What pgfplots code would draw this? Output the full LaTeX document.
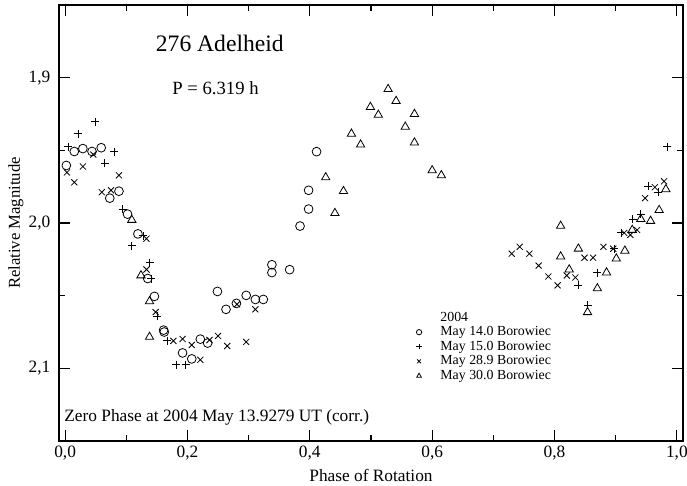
\documentclass[border=0pt]{standalone}
\usepackage{fontspec}
\setmainfont{Liberation Serif}
\usepackage{pgfplots}
\pgfplotsset{compat=1.18}

\begin{document}
\begin{tikzpicture}
\path[use as bounding box] (-44.25pt,-33.75pt) rectangle (471pt,330.75pt);
\begin{axis}[
    scale only axis,
    width=468pt, height=327pt,
    xmin=-0.01, xmax=1.01,
    ymin=1.85, ymax=2.15,
    y dir=reverse,
    xtick={0,0.2,0.4,0.6,0.8,1},
    ytick={1.9,2.0,2.1},
    minor x tick num=1,
    minor y tick num=1,
    tick align=inside,
    major tick length=8.5pt,
    minor tick length=4.5pt,
    axis line style={line width=1.2pt},
    every tick/.style={black, line width=0.8pt},
    /pgf/number format/fixed,
    /pgf/number format/fixed zerofill,
    /pgf/number format/precision=1,
    /pgf/number format/use comma,
    /pgf/number format/assume math mode=true,
    tick label style={font=\fontsize{13}{15}\selectfont},
    yticklabel style={xshift=-3pt},
    xlabel={Phase of Rotation},
    ylabel={Relative Magnitude},
    every axis x label/.style={at={(axis description cs:0.5,-0.080)}, anchor=center, font=\fontsize{13}{15}\selectfont},
    every axis y label/.style={at={(axis description cs:-0.069,0.5)}, rotate=90, anchor=center, font=\fontsize{12.5}{15}\selectfont},
    legend cell align=left,
    legend style={at={(axis cs:0.553,2.0574)}, anchor=north west, draw=none, fill=none,
        font=\fontsize{10.4}{12}\selectfont, row sep=-1.5pt, column sep=12pt},
    legend image post style={mark size=2pt},
]
\addlegendimage{empty legend}
\addlegendentry{2004}

% May 14.0
\addplot[only marks, mark=o, mark size=3.3pt, line width=0.6pt] coordinates {
 (0.002,1.9604) (0.015,1.9508) (0.029,1.9488) (0.044,1.9508) (0.059,1.9482)
 (0.073,1.9829) (0.088,1.9781) (0.102,1.9939) (0.119,2.0075) (0.135,2.0382)
 (0.146,2.0505) (0.161,2.0737) (0.162,2.0750) (0.192,2.0894) (0.207,2.0935)
 (0.221,2.0799) (0.233,2.0826) (0.249,2.0471) (0.263,2.0594) (0.280,2.0553)
 (0.296,2.0498) (0.311,2.0526) (0.324,2.0526) (0.338,2.0287) (0.338,2.0341)
 (0.367,2.0321) (0.384,2.0021) (0.398,1.9904) (0.398,1.9775) (0.411,1.9509)
};
\addlegendentry{May 14.0 Borowiec}

% May 15.0
\addplot[only marks, mark=+, mark size=3pt, line width=0.6pt] coordinates {
 (0.005,1.9474) (0.021,1.9386) (0.049,1.9304) (0.065,1.9590) (0.080,1.9508)
 (0.094,1.9904) (0.109,2.0157) (0.128,2.0088) (0.138,2.0273) (0.141,2.0382)
 (0.151,2.0641) (0.167,2.0811) (0.182,2.0975) (0.197,2.0975)
 (0.839,2.0429) (0.854,2.0566) (0.870,2.0341) (0.898,2.0177) (0.909,2.0068)
 (0.928,1.9973) (0.941,1.9939) (0.953,1.9748) (0.969,1.9789) (0.984,1.9474)
};
\addlegendentry{May 15.0 Borowiec}

% May 28.9
\addplot[only marks, mark=x, mark size=3.2pt, line width=0.6pt] coordinates {
 (0.003,1.9652) (0.015,1.9720) (0.029,1.9611) (0.046,1.9529) (0.060,1.9788)
 (0.075,1.9775) (0.088,1.9672) (0.133,2.0108) (0.133,2.0320) (0.148,2.0613)
 (0.177,2.0811) (0.192,2.0798) (0.207,2.0839) (0.221,2.0941) (0.236,2.0805)
 (0.250,2.0777) (0.265,2.0846) (0.281,2.0559) (0.296,2.0818) (0.311,2.0594)
 (0.730,2.0211) (0.743,2.0164) (0.759,2.0211) (0.774,2.0293) (0.790,2.0368)
 (0.805,2.0429) (0.820,2.0361) (0.834,2.0375) (0.849,2.0239) (0.863,2.0239)
 (0.880,2.0164) (0.896,2.0177) (0.914,2.0068) (0.924,2.0082) (0.935,2.0048)
 (0.948,1.9829) (0.964,1.9754) (0.979,1.9713)
};
\addlegendentry{May 28.9 Borowiec}

% May 30.0
\addplot[only marks, mark=triangle, mark size=3.6pt, line width=0.6pt] coordinates {
 (0.109,1.9979) (0.124,2.0361) (0.138,2.0539) (0.138,2.0784)
 (0.426,1.9686) (0.441,1.9932) (0.455,1.9781) (0.468,1.9386) (0.483,1.9461)
 (0.499,1.9202) (0.512,1.9256) (0.528,1.9079) (0.541,1.9161) (0.556,1.9338)
 (0.571,1.9250) (0.571,1.9447) (0.600,1.9638) (0.615,1.9672)
 (0.810,2.0020) (0.810,2.0231) (0.824,2.0320) (0.839,2.0177) (0.854,2.0614)
 (0.870,2.0450) (0.885,2.0341) (0.901,2.0245) (0.915,2.0191) (0.927,2.0048)
 (0.941,1.9973) (0.957,1.9986) (0.971,1.9911) (0.982,1.9768)
};
\addlegendentry{May 30.0 Borowiec}

\node[anchor=base west, inner sep=0pt, font=\fontsize{17.7}{20}\selectfont] at (axis cs:0.148,1.8818) {276 Adelheid};
\node[anchor=base west, inner sep=0pt, font=\fontsize{14}{16}\selectfont] at (axis cs:0.175,1.9113) {P = 6.319 h};
\node[anchor=base west, inner sep=0pt, font=\fontsize{13}{15}\selectfont] at (axis cs:-0.0016,2.1366) {Zero Phase at 2004 May 13.9279 UT (corr.)};
\end{axis}
\end{tikzpicture}
\end{document}
